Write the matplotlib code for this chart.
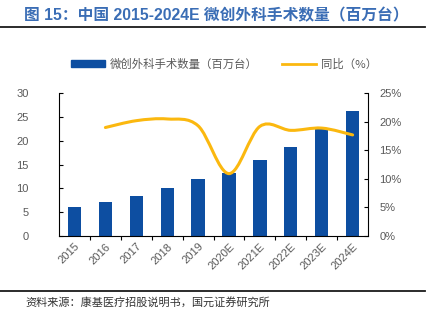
import numpy as np
import matplotlib
matplotlib.use("Agg")
import matplotlib.pyplot as plt
from matplotlib.path import Path
from matplotlib.patches import PathPatch, Patch
from matplotlib.lines import Line2D
from matplotlib.ticker import FuncFormatter

plt.rcParams['font.family'] = ['Liberation Sans', 'Noto Sans CJK SC', 'DejaVu Sans']

# 数据
years = ['2015', '2016', '2017', '2018', '2019', '2020E', '2021E', '2022E', '2023E', '2024E']
surgeries = [6.0, 7.0, 8.4, 10.1, 12.0, 13.3, 15.9, 18.7, 22.4, 26.3]   # 百万台
growth = [19.0, 20.2, 20.5, 19.3, 10.9, 19.2, 18.5, 18.9, 17.7]        # %，2016 起

bar_color = '#0D4EA1'
line_color = '#FBB80F'
grey = '#595959'

fig = plt.figure(figsize=(4.31, 3.28), dpi=100)
ax = fig.add_axes([0.137, 0.2814, 0.717, 0.434])
ax2 = ax.twinx()

x = np.arange(len(years))
ax.bar(x, surgeries, width=0.43, color=bar_color, zorder=2)
ax.set_xlim(-0.5, len(years) - 0.5)
ax.set_ylim(0, 30)
ax.set_yticks(range(0, 31, 5))
ax.set_xticks(x)
ax.set_xticklabels(years, rotation=45, ha='right', rotation_mode='anchor')
ax.set_xticks(np.arange(0.5, len(years) - 1, 1), minor=True)
ax.tick_params(axis='x', which='major', length=0, labelsize=8, colors=grey, pad=4)
ax.tick_params(axis='x', which='minor', length=3, direction='out', width=0.8)
ax.tick_params(axis='y', direction='in', length=3, labelsize=8, labelcolor=grey, pad=22)
ax.spines['top'].set_visible(False)
ax.spines['right'].set_visible(False)

# 同比曲线：平滑（Catmull-Rom 转三次贝塞尔）
ax2.set_ylim(0, 25)
ax2.set_yticks(range(0, 26, 5))
ax2.yaxis.set_major_formatter(FuncFormatter(lambda v, p: f'{v:.0f}%'))
ax2.tick_params(axis='y', direction='in', length=3, labelsize=8, labelcolor=grey, pad=8)
ax2.spines['top'].set_visible(False)
ax2.spines['left'].set_visible(False)
ax2.spines['bottom'].set_visible(False)

pts = np.column_stack([x[1:], growth])
verts = [tuple(pts[0])]
codes = [Path.MOVETO]
n = len(pts)
for i in range(n - 1):
    p0 = pts[max(i - 1, 0)]
    p1 = pts[i]
    p2 = pts[i + 1]
    p3 = pts[min(i + 2, n - 1)]
    c1 = p1 + (p2 - p0) / 6
    c2 = p2 - (p3 - p1) / 6
    verts += [tuple(c1), tuple(c2), tuple(p2)]
    codes += [Path.CURVE4] * 3
ax2.add_patch(PathPatch(Path(verts, codes), facecolor='none', edgecolor=line_color,
                        lw=2.2, zorder=3, capstyle='round'))

# 图例
handles = [Patch(color=bar_color), Line2D([0], [0], color=line_color, lw=2)]
labels = ['微创外科手术数量（百万台）', '同比（%）']
fig.legend(handles, labels, loc='center left', bbox_to_anchor=(0.14, 0.805),
           ncol=2, frameon=False, labelcolor=grey,
           handlelength=3.0, handleheight=0.55, columnspacing=2.2, handletextpad=0.4,
           prop={'family': ['Noto Sans CJK SC'], 'size': 8.2})

# 标题与来源
fig.text(0.502, 0.953, '图 15：中国 2015-2024E 微创外科手术数量（百万台）',
         ha='center', va='center', fontsize=11.3, fontweight='bold', color='#3A6DB5',
         family=['Liberation Sans', 'Noto Sans CJK SC'])
fig.add_artist(Line2D([0.0, 0.987], [1 - 27.3 / 328] * 2, color='#1a1a1a', lw=1.3))
fig.add_artist(Line2D([0.0, 0.987], [1 - 291 / 328] * 2, color='#1a1a1a', lw=1.3))
fig.text(25 / 431, 1 - 302 / 328, '资料来源：康基医疗招股说明书，国元证券研究所',
         ha='left', va='center', fontsize=8, color='#333333',
         family=['Noto Sans CJK SC'])

fig.savefig('out.png', dpi=100)
